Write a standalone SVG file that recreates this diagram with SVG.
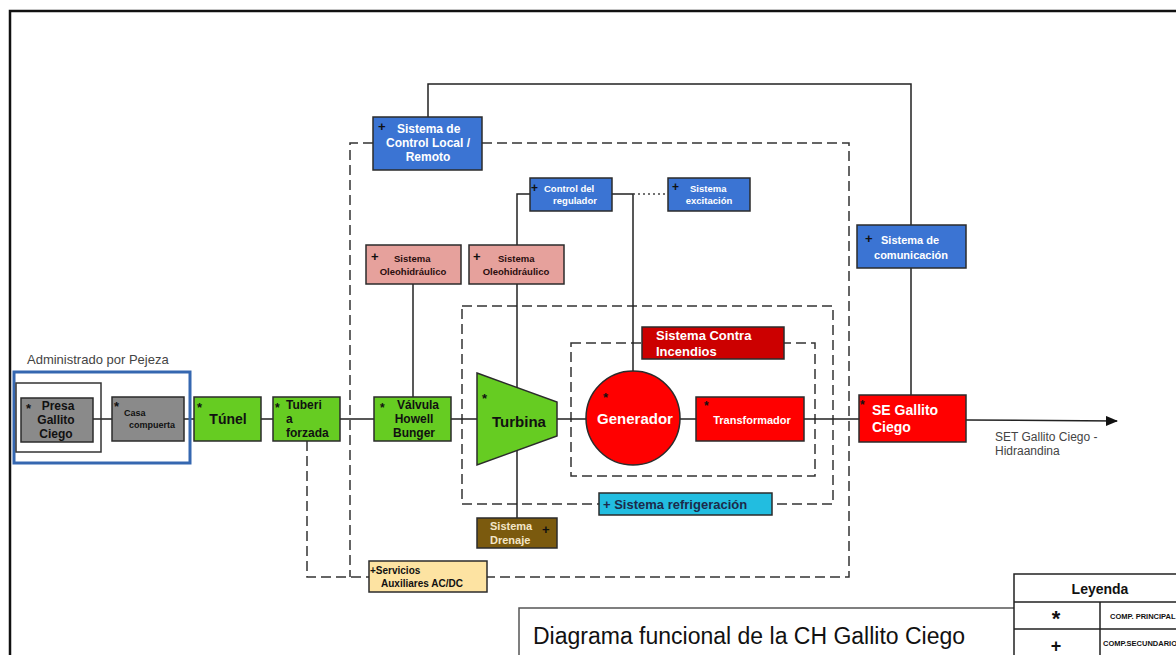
<svg xmlns="http://www.w3.org/2000/svg" width="1176" height="655" viewBox="0 0 1176 655">
<defs>
<style>
text{font-family:"Liberation Sans",Arial,sans-serif;font-weight:bold}
.bx{stroke:#2b2b2b;stroke-width:1.5}
.ln{stroke:#222;stroke-width:1.5;fill:none}
.dash{stroke:#333;stroke-width:1.5;fill:none;stroke-dasharray:10,5}
.blue{fill:#3b74d3}
.green{fill:#66cc22}
.red{fill:#ff0000}
.pink{fill:#e6a19c}
.gray{fill:#8a8a8a}
.w{fill:#ffffff}
.k{fill:#111}
.m{text-anchor:middle}
</style>
<marker id="arr" markerWidth="12" markerHeight="10" refX="11" refY="5" orient="auto" markerUnits="userSpaceOnUse">
<path d="M0,0 L12,5 L0,10 Z" fill="#111"/>
</marker>
</defs>
<rect width="1176" height="655" fill="#fff"/>
<!-- outer frame -->
<path d="M10,655 V11 H1176" fill="none" stroke="#111" stroke-width="2.5"/>

<g id="connectors">
<!-- dashed enclosures -->
<path class="dash" d="M482,143 H849 V577 H487"/>
<path class="dash" d="M373,143 H350 V577"/>
<path class="dash" d="M307,441 V577 H369"/>
<rect class="dash" x="462" y="306" width="371" height="198"/>
<rect class="dash" x="571" y="343" width="244" height="133"/>
<!-- main flow line -->
<path class="ln" d="M93,419 H112 M184,419 H194 M261,419 H273 M340,419 H374 M451,419 H480 M555,419 H586 M680,419 H696 M804,419 H859"/>
<path class="ln" d="M966,420 L1117,421" marker-end="url(#arr)"/>
<!-- control lines -->
<path class="ln" d="M428,117 V84 H911 V225"/>
<path class="ln" d="M911,268 V395"/>
<path class="ln" d="M612,194 H633 V371"/>
<path d="M633,194 H668" stroke="#444" stroke-width="1.5" stroke-dasharray="2,3" fill="none"/>
<path class="ln" d="M530,194 H517 V245"/>
<path class="ln" d="M413,284 V397"/>
<path class="ln" d="M517,284 V518"/>
</g>

<!-- Administrado por Pejeza -->
<g id="pejeza">
<text x="27" y="364" font-size="13" fill="#444" style="font-weight:normal">Administrado  por Pejeza</text>
<rect x="14" y="372" width="176" height="91" fill="none" stroke="#3567b0" stroke-width="3"/>
<rect x="16" y="383" width="85" height="69" fill="none" stroke="#333" stroke-width="1.5"/>
</g>

<g id="presa">
<rect class="bx gray" x="21" y="398" width="72" height="44"/>
<text x="26" y="413" font-size="13" class="k">*</text>
<text x="58" y="410" font-size="12" class="k m">Presa</text>
<text x="56" y="424" font-size="12" class="k m">Gallito</text>
<text x="56" y="438" font-size="12" class="k m">Ciego</text>
</g>

<g id="casa">
<rect class="bx gray" x="112" y="397" width="72" height="44"/>
<text x="114" y="411" font-size="13" class="k">*</text>
<text x="124" y="416" font-size="9" class="k">Casa</text>
<text x="129" y="428" font-size="9" class="k">compuerta</text>
</g>

<g id="tunel">
<rect class="bx green" x="194" y="397" width="67" height="44"/>
<text x="197" y="412" font-size="13" class="k">*</text>
<text x="228" y="424" font-size="14" class="k m">Túnel</text>
</g>

<g id="tuberia">
<rect class="bx green" x="273" y="397" width="67" height="44"/>
<text x="275" y="412" font-size="12" class="k">*</text>
<text x="286" y="409" font-size="12" class="k">Tuberi</text>
<text x="286" y="423" font-size="12" class="k">a</text>
<text x="286" y="437" font-size="12" class="k">forzada</text>
</g>

<g id="valvula">
<rect class="bx green" x="374" y="397" width="77" height="44"/>
<text x="380" y="412" font-size="12" class="k">*</text>
<text x="418" y="409" font-size="12" class="k m">Válvula</text>
<text x="414" y="423" font-size="12" class="k m">Howell</text>
<text x="414" y="437" font-size="12" class="k m">Bunger</text>
</g>

<g id="turbina">
<path class="bx green" d="M477,373 L557,402 L557,436 L477,465 Z"/>
<text x="482" y="403" font-size="13" class="k">*</text>
<text x="519" y="427" font-size="15" class="k m">Turbina</text>
</g>

<g id="generador">
<circle class="bx red" cx="633" cy="418" r="47"/>
<text x="603" y="402" font-size="13" class="k">*</text>
<text x="635" y="424" font-size="15" class="w m">Generador</text>
</g>

<g id="transformador">
<rect class="bx red" x="696" y="397" width="108" height="44"/>
<text x="704" y="410" font-size="12" class="k">*</text>
<text x="752" y="424" font-size="11" class="w m">Transformador</text>
</g>

<g id="se-gallito">
<rect class="bx red" x="859" y="395" width="107" height="47"/>
<text x="860" y="409" font-size="12" class="k">*</text>
<text x="872" y="415" font-size="14" class="w">SE Gallito</text>
<text x="872" y="432" font-size="14" class="w">Ciego</text>
<text x="995" y="441" font-size="12" fill="#444" style="font-weight:normal">SET Gallito Ciego -</text>
<text x="995" y="455" font-size="12" fill="#444" style="font-weight:normal">Hidraandina</text>
</g>

<g id="contra-incendios">
<rect class="bx" x="642" y="327" width="142" height="32" fill="#cc0000"/>
<text x="656" y="340" font-size="13" class="w">Sistema  Contra</text>
<text x="656" y="356" font-size="13" class="w">Incendios</text>
</g>

<g id="refrigeracion">
<rect class="bx" x="599" y="493" width="173" height="22" fill="#22bde0"/>
<text x="603" y="509" font-size="13" fill="#1c2a4a">+ Sistema refrigeración</text>
</g>

<g id="drenaje">
<rect class="bx" x="477" y="518" width="80" height="30" fill="#7b5a0e"/>
<text x="490" y="530" font-size="11" fill="#f3e6c8">Sistema</text>
<text x="490" y="544" font-size="11" fill="#f3e6c8">Drenaje</text>
<text x="542" y="534" font-size="13" class="k">+</text>
</g>

<g id="servicios">
<rect class="bx" x="369" y="561" width="118" height="31" fill="#fde3a2"/>
<text x="370" y="574" font-size="10" class="k">+Servicios</text>
<text x="381" y="587" font-size="10" class="k">Auxiliares AC/DC</text>
</g>

<g id="control-local">
<rect class="bx blue" x="373" y="117" width="109" height="53"/>
<text x="378" y="131" font-size="13" class="k">+</text>
<text x="397" y="133" font-size="12" class="w">Sistema de</text>
<text x="428" y="147" font-size="12" class="w m">Control Local /</text>
<text x="428" y="161" font-size="12" class="w m">Remoto</text>
</g>

<g id="regulador">
<rect class="bx blue" x="530" y="178" width="82" height="33"/>
<text x="531" y="192" font-size="12" class="k">+</text>
<text x="544" y="192" font-size="9.5" class="w">Control del</text>
<text x="575" y="204" font-size="9.5" class="w m">regulador</text>
</g>

<g id="excitacion">
<rect class="bx blue" x="668" y="178" width="82" height="33"/>
<text x="672" y="191" font-size="12" class="k">+</text>
<text x="690" y="192" font-size="9.5" class="w">Sistema</text>
<text x="709" y="204" font-size="9.5" class="w m">excitación</text>
</g>

<g id="oleo-1">
<rect class="bx pink" x="366" y="245" width="95" height="39"/>
<text x="371" y="261" font-size="13" class="k">+</text>
<text x="394" y="262" font-size="9.5" fill="#2a0e0e">Sistema</text>
<text x="413" y="275" font-size="9.5" fill="#2a0e0e" class="m">Oleohidráulico</text>
</g>

<g id="oleo-2">
<rect class="bx pink" x="469" y="245" width="95" height="39"/>
<text x="473" y="261" font-size="13" class="k">+</text>
<text x="498" y="262" font-size="9.5" fill="#2a0e0e">Sistema</text>
<text x="516" y="275" font-size="9.5" fill="#2a0e0e" class="m">Oleohidráulico</text>
</g>

<g id="comunicacion">
<rect class="bx blue" x="857" y="225" width="109" height="43"/>
<text x="865" y="243" font-size="13" class="k">+</text>
<text x="881" y="244" font-size="11" class="w">Sistema de</text>
<text x="911" y="259" font-size="11" class="w m">comunicación</text>
</g>

<g id="titulo">
<path d="M519,655 V608 H1014" fill="none" stroke="#555" stroke-width="1.5"/>
<text x="533" y="644" font-size="23" fill="#111" style="font-weight:normal">Diagrama funcional de la CH Gallito Ciego</text>
</g>

<g id="leyenda">
<path d="M1014,655 V574 H1176 M1014,602 H1176 M1014,629 H1176 M1100,602 V655" fill="none" stroke="#222" stroke-width="1.5"/>
<text x="1100" y="594" font-size="14" class="k m">Leyenda</text>
<text x="1056" y="626" font-size="22" class="k m">*</text>
<text x="1056" y="652" font-size="18" class="k m">+</text>
<text x="1110" y="619" font-size="7.5" class="k">COMP. PRINCIPAL</text>
<text x="1103" y="646" font-size="7.5" class="k">COMP.SECUNDARIO</text>
</g>
</svg>
